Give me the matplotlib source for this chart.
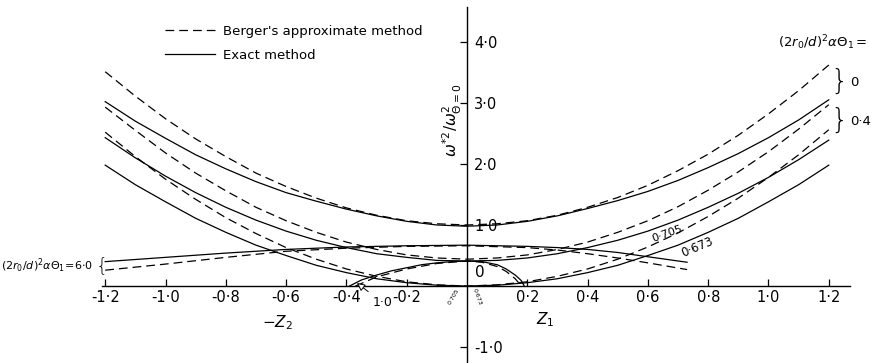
import numpy as np
import matplotlib.pyplot as plt

# z values (negative side = -Z2, positive side = Z1)
z = [-1.2, -1.1, -1.0, -0.9, -0.8, -0.7, -0.6, -0.5, -0.4, -0.3, -0.2, -0.1, 0.0,
     0.1, 0.2, 0.3, 0.4, 0.5, 0.6, 0.7, 0.8, 0.9, 1.0, 1.1, 1.2]

# (2r0/d)^2 a Theta1 = 0
berger_0 = [3.51, 3.11, 2.74, 2.41, 2.12, 1.85, 1.63, 1.44, 1.28, 1.16, 1.07, 1.02, 1.00,
            1.02, 1.07, 1.16, 1.29, 1.45, 1.65, 1.89, 2.16, 2.47, 2.82, 3.20, 3.62]
exact_0 = [3.02, 2.70, 2.42, 2.15, 1.92, 1.71, 1.53, 1.39, 1.26, 1.15, 1.06, 1.00, 0.98,
           1.00, 1.06, 1.15, 1.27, 1.40, 1.55, 1.73, 1.94, 2.17, 2.43, 2.72, 3.05]
# = 0.4
berger_04 = [2.93, 2.55, 2.18, 1.85, 1.56, 1.29, 1.07, 0.88, 0.72, 0.60, 0.51, 0.46, 0.44,
             0.46, 0.51, 0.60, 0.72, 0.88, 1.07, 1.30, 1.57, 1.87, 2.20, 2.57, 2.97]
exact_04 = [2.43, 2.10, 1.80, 1.53, 1.29, 1.08, 0.90, 0.75, 0.63, 0.53, 0.47, 0.42, 0.41,
            0.42, 0.46, 0.53, 0.63, 0.75, 0.90, 1.08, 1.29, 1.52, 1.78, 2.07, 2.39]
# critical values: 0.705 (Berger), 0.673 (exact)
berger_705 = [2.52, 2.12, 1.75, 1.42, 1.12, 0.86, 0.63, 0.44, 0.28, 0.16, 0.07, 0.02, 0.0,
              0.02, 0.07, 0.16, 0.28, 0.44, 0.64, 0.87, 1.14, 1.44, 1.78, 2.15, 2.56]
exact_673 = [1.98, 1.66, 1.38, 1.11, 0.88, 0.67, 0.50, 0.34, 0.22, 0.12, 0.055, 0.014, 0.0,
             0.014, 0.055, 0.12, 0.22, 0.34, 0.50, 0.67, 0.88, 1.11, 1.38, 1.66, 1.98]

# = 6.0
z_60 = [-1.2, -1.0, -0.8, -0.6, -0.4, -0.2, 0.0, 0.2, 0.3, 0.4, 0.5, 0.6, 0.73]
berger_60 = [0.26, 0.36, 0.47, 0.57, 0.62, 0.65, 0.66, 0.63, 0.59, 0.53, 0.46, 0.38, 0.27]
exact_60 = [0.40, 0.47, 0.54, 0.60, 0.64, 0.66, 0.67, 0.65, 0.63, 0.60, 0.55, 0.48, 0.39]

# = 1.0 (closed hump near the origin)
z_h_exact = [-0.39, -0.35, -0.3, -0.25, -0.2, -0.15, -0.1, -0.05, 0.0,
             0.05, 0.1, 0.13, 0.16, 0.18, 0.19]
exact_10 = [0.0, 0.10, 0.18, 0.25, 0.30, 0.35, 0.38, 0.40, 0.41,
            0.40, 0.35, 0.28, 0.18, 0.09, 0.0]
z_h_berger = [-0.37, -0.3, -0.2, -0.1, 0.0, 0.05, 0.1, 0.13, 0.16, 0.18]
berger_10 = [0.0, 0.15, 0.28, 0.37, 0.41, 0.39, 0.32, 0.24, 0.12, 0.0]

xticks = [-1.2, -1.0, -0.8, -0.6, -0.4, -0.2, 0.2, 0.4, 0.6, 0.8, 1.0, 1.2]
xlabels = ['-1\u00b72', '-1\u00b70', '-0\u00b78', '-0\u00b76', '-0\u00b74', '-0\u00b72',
           '0\u00b72', '0\u00b74', '0\u00b76', '0\u00b78', '1\u00b70', '1\u00b72']
yticks = [-1.0, 1.0, 2.0, 3.0, 4.0]
ylabels = ['-1\u00b70', '1\u00b70', '2\u00b70', '3\u00b70', '4\u00b70']

fig = plt.figure(figsize=(8.75, 3.63), dpi=100)
ax = fig.add_axes([0.1168, 0.0, 0.8545, 0.9807])
ax.set_xlim(-1.21, 1.27)
ax.set_ylim(-1.26, 4.57)

dash = (0, (7, 4))
lw = 0.9
k = 'black'

ax.plot(z, berger_0, color=k, lw=lw, ls=dash, label="Berger's approximate method")
ax.plot(z, exact_0, color=k, lw=lw, label='Exact method')
ax.plot(z, berger_04, color=k, lw=lw, ls=dash)
ax.plot(z, exact_04, color=k, lw=lw)
ax.plot(z, berger_705, color=k, lw=lw, ls=dash)
ax.plot(z, exact_673, color=k, lw=lw)
ax.plot(z_60, berger_60, color=k, lw=lw, ls=dash)
ax.plot(z_60, exact_60, color=k, lw=lw)
ax.plot(z_h_berger, berger_10, color=k, lw=lw, ls=dash)
ax.plot(z_h_exact, exact_10, color=k, lw=lw)

# axes through the origin
ax.spines['top'].set_visible(False)
ax.spines['left'].set_visible(False)
ax.spines['bottom'].set_position(('data', 0))
ax.spines['right'].set_position(('data', 0))
ax.spines['bottom'].set_linewidth(1.0)
ax.spines['right'].set_linewidth(1.0)
ax.yaxis.tick_right()
ax.set_xticks(xticks)
ax.set_xticklabels(xlabels)
ax.set_yticks(yticks)
ax.set_yticklabels(ylabels)
ax.tick_params(axis='x', direction='in', length=5, width=0.9, pad=3, labelsize=10.5)
ax.tick_params(axis='y', direction='in', length=5, width=0.9, pad=5, labelsize=10.5)

ax.text(0.025, 0.1, '0', fontsize=11, ha='left', va='bottom')

ax.text(-0.05, 2.72, r'$\omega^{*2}/\omega^{2}_{\Theta=0}$', rotation=90,
        ha='center', va='center', fontsize=11)
ax.text(-0.63, -0.6, r'$-Z_2$', fontsize=11, ha='center', va='center')
ax.text(0.26, -0.55, r'$Z_1$', fontsize=11, ha='center', va='center')

leg = ax.legend(loc='upper left', bbox_to_anchor=(158 / 875, 1 - 18 / 363),
                bbox_transform=fig.transFigure, frameon=False, fontsize=9.5,
                handlelength=3.8, handletextpad=0.6, labelspacing=0.85, borderpad=0)

# family labels
ax.text(1.03, 3.98, r'$(2r_0/d)^2\alpha\Theta_1=$', fontsize=9.5, ha='left', va='center')
ax.text(1.205, 3.34, '}', fontsize=20, ha='left', va='center', fontweight='light')
ax.text(1.27, 3.34, '0', fontsize=9.5, ha='left', va='center')
ax.text(1.205, 2.70, '}', fontsize=20, ha='left', va='center', fontweight='light')
ax.text(1.27, 2.70, '0\u00b74', fontsize=9.5, ha='left', va='center')

ax.text(-1.545, 0.33, r'$(2r_0/d)^2\alpha\Theta_1\!=\!6{\cdot}0$', fontsize=8,
        ha='left', va='center')
ax.text(-1.19, 0.33, '{', fontsize=14, ha='right', va='center', fontweight='light')

ax.text(0.663, 0.85, '0\u00b7705', fontsize=8, rotation=20, ha='center', va='center')
ax.text(0.765, 0.64, '0\u00b7673', fontsize=8.5, rotation=23, ha='center', va='center')

ax.text(-0.045, -0.17, '0\u00b7705', fontsize=4.5, rotation=60, ha='center', va='center')
ax.text(0.035, -0.17, '0\u00b7673', fontsize=4.5, rotation=-70, ha='center', va='center')

ax.annotate('1\u00b70', xy=(-0.365, 0.05), xytext=(-0.28, -0.27), fontsize=9,
            ha='center', va='center',
            arrowprops=dict(arrowstyle='-|>', color=k, lw=0.7, fc='white',
                            mutation_scale=12, shrinkA=2, shrinkB=0))

fig.savefig('out.png', dpi=100)
